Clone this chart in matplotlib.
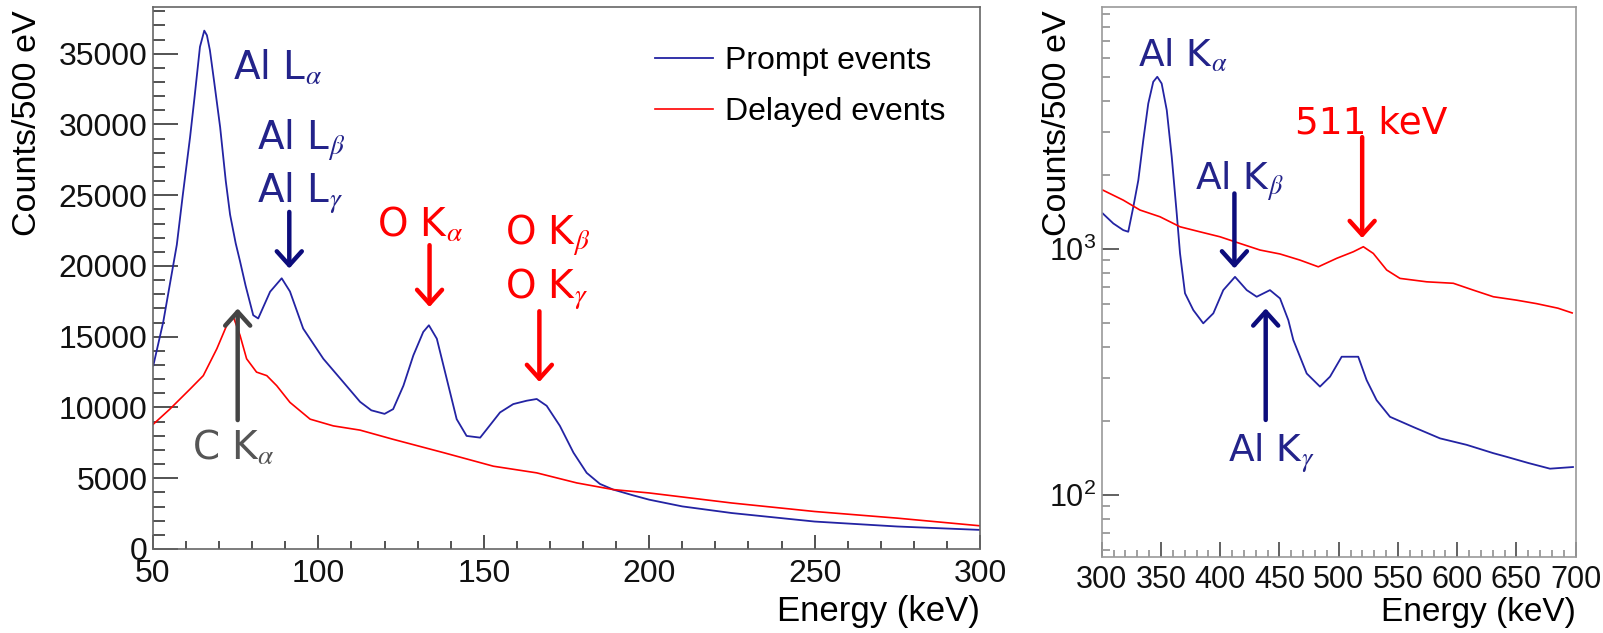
import matplotlib
matplotlib.use('Agg')
import matplotlib.pyplot as plt
from matplotlib.ticker import MultipleLocator, LogLocator, NullFormatter, LogFormatterSciNotation

# left panel (linear), energy in keV, counts per 500 eV
low_energy_prompt = [50.1, 53.1, 57.2, 59.0, 61.2, 62.5, 64.2, 65.5, 66.3, 67.2, 68.5, 70.3, 72.0,
                     73.3, 75.0, 76.3, 78.0, 80.3, 81.8,
                     85.4, 88.9, 91.4, 95.4, 101.5, 107.5, 112.6, 116.0, 120.0, 122.6, 125.7,
                     128.7, 131.7, 133.4, 135.8, 138.8, 141.8, 144.8, 148.9, 150.9, 154.9,
                     158.9, 163.0, 166.0, 169.0, 173.0, 177.1, 181.1, 185.1, 189.1, 195.0,
                     200.0, 210.0, 225.0, 250.0, 275.0, 300.0]
low_counts_prompt = [12970, 16050, 21500, 25000, 29090, 31800, 35490, 36630, 36300, 35250, 33000, 29800, 26000,
                     23630, 21600, 20340, 18600, 16520, 16290,
                     18180, 19130, 18200, 15575, 13440, 11800, 10400, 9800, 9550, 9886, 11540,
                     13680, 15340, 15810, 14860, 12020, 9175, 7990, 7870, 8460, 9650,
                     10240, 10480, 10600, 10120, 8700, 6810, 5380, 4600, 4200, 3800,
                     3485, 3010, 2540, 1940, 1590, 1350]

low_energy_delayed = [50.1, 55.1, 61.2, 65.2, 69.3, 72.3, 74.3, 76.3, 78.3, 81.3, 84.4, 87.4,
                      91.4, 97.5, 104.5, 112.6, 122.6, 137.8, 152.9, 166.0, 178.1, 189.1,
                      200.0, 225.0, 250.0, 275.0, 300.0]
low_counts_delayed = [8820, 9886, 11300, 12250, 14150, 15810, 16400, 15100, 13440, 12500, 12250, 11540,
                      10360, 9175, 8700, 8400, 7750, 6810, 5850, 5380, 4670, 4200,
                      3960, 3250, 2650, 2180, 1640]

# right panel (log)
high_energy_prompt = [300.8, 309.8, 318.2, 322.4, 326.7, 330.9, 335.1, 339.3, 343.5, 346.9, 350.6,
                      354.9, 359.1, 363.3, 366.1, 370.3, 377.3, 385.7, 394.2, 402.6, 412.5,
                      422.4, 430.8, 442.0, 450.5, 457.5, 461.7, 473.0, 484.2, 492.7, 502.5,
                      511.0, 516.5, 523.6, 532.0, 543.3, 563.0, 585.5, 608.0, 630.5, 641.8,
                      660.0, 678.3, 697.7]
high_counts_prompt = [1397, 1271, 1194, 1176, 1486, 1905, 2773, 3905, 4786, 5016, 4710,
                      3672, 2372, 1397, 960, 661, 565, 499, 548, 681, 771,
                      681, 640, 681, 630, 514, 427, 312, 276, 303, 365,
                      365, 365, 293, 243, 208, 189, 170, 160, 148, 143,
                      135, 128, 130]

high_energy_delayed = [300.8, 318.2, 332.3, 349.2, 366.1, 383.0, 399.8, 416.7, 433.6, 450.5,
                       467.3, 482.8, 498.3, 512.3, 520.8, 529.2, 540.5, 551.7, 574.3, 596.7,
                       613.6, 630.5, 650.0, 667.0, 685.0, 697.0]
high_counts_delayed = [1738, 1581, 1441, 1353, 1232, 1175, 1122, 1054, 991, 955,
                       902, 847, 917, 975, 1022, 960, 822, 760, 736, 726,
                       681, 640, 620, 600, 575, 550]

plt.rcParams['font.family'] = 'Liberation Sans'
plt.rcParams['mathtext.fontset'] = 'stix'

BLUE = '#2323a3'
RED = '#ff0000'
NAVY = '#0c0c7c'
TXT_NAVY = '#23238a'
GRAY = '#555555'
ANN_FONT = 'DejaVu Sans'

W, H = 1603, 633
fig = plt.figure(figsize=(W / 100, H / 100), dpi=100)
ax1 = fig.add_axes([153 / W, 1 - 549 / H, 827 / W, 542 / H])
ax2 = fig.add_axes([1101.7 / W, 1 - 557 / H, 474 / W, 550 / H])


def arrow(ax, x, y_tip, y_tail, color):
    ax.annotate('', xy=(x, y_tip), xytext=(x, y_tail),
                arrowprops=dict(arrowstyle='->,head_length=0.5,head_width=0.45',
                                lw=3.2, color=color, shrinkA=0, shrinkB=0,
                                mutation_scale=20))


# ---- left panel ----
ax1.plot(low_energy_prompt, low_counts_prompt, color=BLUE, lw=1.3, label='Prompt events')
ax1.plot(low_energy_delayed, low_counts_delayed, color=RED, lw=1.2, label='Delayed events')
ax1.set_xlim(50, 300)
ax1.set_ylim(0, 38300)
ax1.xaxis.set_major_locator(MultipleLocator(50))
ax1.xaxis.set_minor_locator(MultipleLocator(10))
ax1.yaxis.set_major_locator(MultipleLocator(5000))
ax1.yaxis.set_minor_locator(MultipleLocator(1000))
ax1.tick_params(axis='both', which='both', direction='in', colors='#444444', width=1.3,
                top=False, right=False, labelcolor='#111111')
ax1.tick_params(axis='y', which='major', length=18, pad=4, labelsize=23)
ax1.tick_params(axis='y', which='minor', length=8.5)
ax1.tick_params(axis='x', which='major', length=10, pad=7, labelsize=23)
ax1.tick_params(axis='x', which='minor', length=5.5)
for s in ax1.spines.values():
    s.set_color('#666666')
    s.set_linewidth(1.2)

ax1.legend(loc='upper left', bbox_to_anchor=((655 - 153) / 827, (549 - 46) / 542),
           frameon=False, fontsize=23, handlelength=1.8, handletextpad=0.4,
           labelspacing=0.65, borderpad=0, borderaxespad=0)

ax1.text(74.2, 33120, r'Al L$_{\alpha}$', color=TXT_NAVY, fontsize=28, family=ANN_FONT)
ax1.text(81.4, 28180, r'Al L$_{\beta}$', color=TXT_NAVY, fontsize=28, family=ANN_FONT)
ax1.text(81.4, 24430, r'Al L$_{\gamma}$', color=TXT_NAVY, fontsize=28, family=ANN_FONT)
arrow(ax1, 91.2, 19820, 23820, NAVY)

ax1.text(117.6, 22050, r'O K$_{\alpha}$', color=RED, fontsize=28, family=ANN_FONT)
arrow(ax1, 133.6, 17100, 21470, RED)
ax1.text(156.4, 21470, r'O K$_{\beta}$', color=RED, fontsize=28, family=ANN_FONT)
ax1.text(156.4, 17700, r'O K$_{\gamma}$', color=RED, fontsize=28, family=ANN_FONT)
arrow(ax1, 166.8, 11800, 16800, RED)

ax1.text(61.7, 6285, r'C K$_{\alpha}$', color=GRAY, fontsize=28, family=ANN_FONT)
arrow(ax1, 75.6, 17000, 9110, '#444444')

# ---- right panel ----
ax2.plot(high_energy_prompt, high_counts_prompt, color=BLUE, lw=1.3)
ax2.plot(high_energy_delayed, high_counts_delayed, color=RED, lw=1.2)
ax2.set_yscale('log')
ax2.set_xlim(300, 700)
ax2.set_ylim(56, 9640)
ax2.xaxis.set_major_locator(MultipleLocator(50))
ax2.xaxis.set_minor_locator(MultipleLocator(10))
ax2.yaxis.set_major_locator(LogLocator(base=10))
ax2.yaxis.set_major_formatter(LogFormatterSciNotation())
ax2.yaxis.set_minor_locator(LogLocator(base=10, subs=range(2, 10)))
ax2.yaxis.set_minor_formatter(NullFormatter())
ax2.tick_params(axis='both', which='both', direction='in', width=1.3,
                top=False, right=False, labelcolor='#111111')
ax2.tick_params(axis='both', which='major', colors='#555555', labelcolor='#111111')
ax2.tick_params(axis='both', which='minor', colors='#999999')
ax2.tick_params(axis='y', which='major', length=12, pad=4, labelsize=22)
ax2.tick_params(axis='y', which='minor', length=6)
ax2.tick_params(axis='x', which='major', length=11, pad=6, labelsize=22)
ax2.tick_params(axis='x', which='minor', length=5)
for s in ax2.spines.values():
    s.set_color('#9a9a9a')
    s.set_linewidth(1.2)

ax2.text(330.6, 5500, r'Al K$_{\alpha}$', color=TXT_NAVY, fontsize=27, family=ANN_FONT)
ax2.text(463.3, 2962, '511 keV', color=RED, fontsize=27, family=ANN_FONT)
arrow(ax2, 519.8, 1108, 2851, RED)
ax2.text(378.7, 1738, r'Al K$_{\beta}$', color=TXT_NAVY, fontsize=27, family=ANN_FONT)
arrow(ax2, 412.0, 834, 1683, NAVY)
ax2.text(406.6, 136, r'Al K$_{\gamma}$', color=TXT_NAVY, fontsize=27, family=ANN_FONT)
arrow(ax2, 438.4, 574, 202, NAVY)

# axis titles, ROOT style (placed at the axis ends)
fig.text(28 / W, 1 - 10 / H, 'Counts/500 eV', rotation=90, ha='center', va='top', fontsize=24.5)
fig.text(1057 / W, 1 - 10 / H, 'Counts/500 eV', rotation=90, ha='center', va='top', fontsize=24.5)
fig.text(980 / W, 1 - 611 / H, 'Energy (keV)', ha='right', va='center', fontsize=25)
fig.text(1575.7 / W, 1 - 613 / H, 'Energy (keV)', ha='right', va='center', fontsize=24)

fig.savefig('out.png', dpi=100)
